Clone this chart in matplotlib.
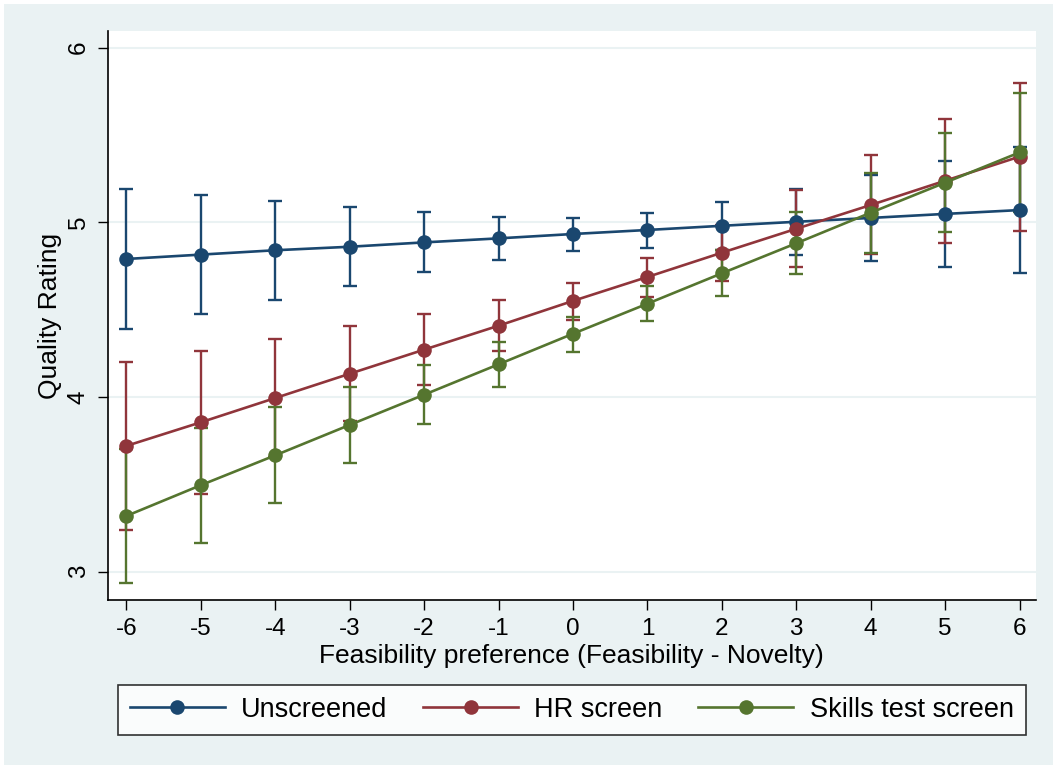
import matplotlib
matplotlib.use("Agg")
import matplotlib.pyplot as plt
from matplotlib.lines import Line2D
from matplotlib.patches import Rectangle

plt.rcParams["font.family"] = ["Liberation Sans", "DejaVu Sans"]

# data
pref = [-6, -5, -4, -3, -2, -1, 0, 1, 2, 3, 4, 5, 6]

unscreened = [4.79, 4.815, 4.84, 4.86, 4.885, 4.908, 4.933, 4.956, 4.98, 5.003, 5.025, 5.048, 5.07]
unscreened_lo = [4.389, 4.473, 4.555, 4.637, 4.714, 4.784, 4.837, 4.853, 4.843, 4.813, 4.78, 4.746, 4.71]
unscreened_hi = [5.19, 5.158, 5.12, 5.086, 5.057, 5.032, 5.026, 5.055, 5.116, 5.189, 5.27, 5.35, 5.43]

hr = [3.72, 3.855, 3.994, 4.133, 4.271, 4.408, 4.55, 4.687, 4.826, 4.963, 5.099, 5.238, 5.376]
hr_lo = [3.237, 3.447, 3.656, 3.86, 4.067, 4.265, 4.44, 4.57, 4.666, 4.742, 4.817, 4.883, 4.952]
hr_hi = [4.2, 4.265, 4.332, 4.405, 4.475, 4.555, 4.654, 4.797, 4.986, 5.183, 5.385, 5.593, 5.80]

skills = [3.319, 3.495, 3.666, 3.84, 4.013, 4.187, 4.362, 4.534, 4.708, 4.88, 5.055, 5.227, 5.40]
skills_lo = [2.935, 3.164, 3.393, 3.62, 3.844, 4.059, 4.26, 4.433, 4.576, 4.704, 4.826, 4.946, 5.06]
skills_hi = [3.70, 3.824, 3.941, 4.059, 4.185, 4.313, 4.46, 4.635, 4.84, 5.057, 5.28, 5.509, 5.738]

labels = ["Unscreened", "HR screen", "Skills test screen"]
y_ticks = [3, 4, 5, 6]

series = [
    (unscreened, unscreened_lo, unscreened_hi, "#1a476f"),
    (hr, hr_lo, hr_hi, "#90353b"),
    (skills, skills_lo, skills_hi, "#55752f"),
]

BG = "#eaf2f3"

fig = plt.figure(figsize=(10.53, 7.69), dpi=100)
fig.patch.set_facecolor("white")
fig.patches.append(Rectangle((4 / 1053, 4 / 769), 1, 761 / 769,
                             transform=fig.transFigure, facecolor=BG,
                             edgecolor="none", zorder=-10))

ax = fig.add_axes([107.7 / 1053, 1 - 600 / 769, (1036 - 107.7) / 1053, (600 - 31) / 769])
ax.set_facecolor("white")

# confidence intervals first, then the connected lines on top
for mean, lo, hi, col in series:
    err = [[m - l for m, l in zip(mean, lo)], [h - m for m, h in zip(mean, hi)]]
    ax.errorbar(pref, mean, yerr=err, fmt="none", ecolor=col, elinewidth=1.7,
                capsize=5, capthick=1.7, zorder=2)
for mean, lo, hi, col in series:
    ax.plot(pref, mean, color=col, lw=1.9, marker="o", markersize=10.5,
            markeredgewidth=0, zorder=3)

ax.set_xlim(-6.25, 6.22)
ax.set_ylim(2.838, 6.095)
ax.set_xticks(pref)
ax.set_xticklabels([str(v) for v in pref])
ax.set_yticks(y_ticks)
ax.set_yticklabels([str(v) for v in y_ticks], rotation=90, va="center")
ax.yaxis.grid(True, color=BG, lw=1.5)
ax.set_axisbelow(True)

for s in ["top", "right"]:
    ax.spines[s].set_visible(False)
for s in ["left", "bottom"]:
    ax.spines[s].set_linewidth(1.2)
    ax.spines[s].set_color("black")
ax.tick_params(axis="both", direction="out", length=7, width=1, labelsize=17.5,
               colors="black", pad=6)

ax.set_xlabel("Feasibility preference (Feasibility - Novelty)", fontsize=19, labelpad=3)
ax.set_ylabel("Quality Rating", fontsize=19, labelpad=4)

handles = [Line2D([], [], color=col, lw=1.9, marker="o", markersize=10.5,
                  markeredgewidth=0) for _, _, _, col in series]
leg = fig.legend(handles, labels, ncol=3, loc="lower left",
                 bbox_to_anchor=(117.7 / 1053, 1 - 735 / 769, 908 / 1053, 48 / 769),
                 mode="expand", fontsize=19.5, frameon=True, fancybox=False,
                 edgecolor="black", handlelength=3.5, handletextpad=0.6,
                 borderpad=0.45, numpoints=1, borderaxespad=0)
leg.get_frame().set_linewidth(1.2)

fig.savefig("out.png", dpi=100, facecolor=fig.get_facecolor())
